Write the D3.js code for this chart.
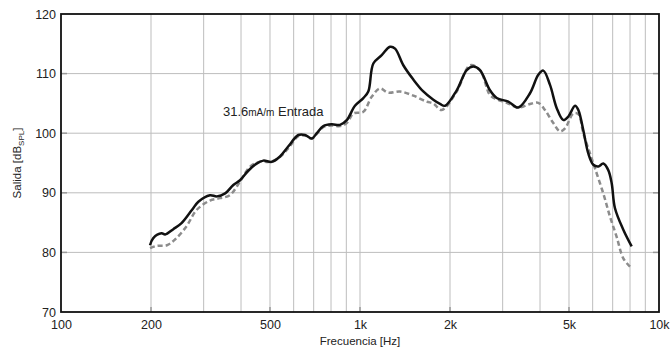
<!DOCTYPE html>
<html>
<head>
<meta charset="utf-8">
<script src="https://cdn.jsdelivr.net/npm/d3@7"></script>
<style>
  body { margin: 0; background: #fff; }
  svg text { font-family: "Liberation Sans", Arial, sans-serif; fill: #222; }
</style>
</head>
<body>
<svg id="chart"></svg>
<script>
// data
const freqSolid = [198.5, 203.5, 217, 223, 237.5, 253, 274, 288, 315, 332, 354, 377, 397, 423, 451, 475, 507, 540, 576, 622, 655, 690, 717, 754, 804, 857, 903, 962, 1026, 1066, 1108, 1182, 1260, 1310, 1396, 1508, 1628, 1759, 1852, 1925, 2106, 2275, 2393, 2519, 2721, 2866, 3133, 3383, 3703, 3948, 4102, 4320, 4550, 4786, 4975, 5238, 5373, 5583, 5801, 6030, 6266, 6511, 6766, 6946, 7125, 7597, 8103];
const splSolid = [81.2, 82.4, 83.2, 83.0, 83.9, 84.9, 87.1, 88.5, 89.6, 89.4, 89.9, 91.3, 92.1, 93.7, 94.9, 95.4, 95.2, 96.1, 97.8, 99.7, 99.7, 99.1, 100.0, 101.2, 101.5, 101.4, 102.2, 104.6, 105.9, 107.0, 111.7, 113.1, 114.5, 114.2, 111.4, 109.0, 107.0, 105.6, 104.9, 104.6, 107.2, 110.6, 111.2, 110.6, 107.2, 105.9, 105.3, 104.3, 106.7, 109.8, 110.5, 108.1, 104.2, 102.2, 102.8, 104.6, 103.9, 100.5, 96.6, 94.7, 94.4, 94.9, 93.8, 91.6, 87.4, 83.8, 81.0];

const freqDash = [198.5, 209, 226, 241, 263, 284, 315, 340, 367, 397, 429, 463, 500, 540, 576, 622, 655, 690, 717, 754, 804, 857, 903, 950, 1026, 1094, 1166, 1243, 1361, 1508, 1672, 1759, 1876, 2106, 2333, 2519, 2721, 2866, 3095, 3383, 3703, 3948, 4155, 4432, 4666, 4849, 5170, 5373, 5583, 5877, 6109, 6511, 6857, 7218, 7597, 8000];
const splDash = [80.7, 81.1, 81.2, 82.2, 84.4, 87.1, 88.7, 89.1, 89.6, 91.9, 94.4, 95.2, 95.2, 96.0, 97.5, 99.5, 99.6, 99.1, 99.9, 101.0, 101.3, 101.2, 101.7, 103.3, 103.6, 106.1, 107.5, 106.8, 107.0, 106.3, 105.3, 105.0, 103.9, 107.0, 111.4, 110.6, 106.4, 105.7, 105.1, 104.3, 104.9, 105.1, 103.9, 101.7, 100.3, 100.8, 103.3, 103.2, 100.0, 96.6, 94.1, 89.9, 86.0, 82.6, 79.0, 77.6];

const xTickValues = [100, 200, 500, 1000, 2000, 5000, 10000];
const xTickLabels = ["100", "200", "500", "1k", "2k", "5k", "10k"];
const yTickValues = [70, 80, 90, 100, 110, 120];

//margins
const W = 671, H = 349;
const margin = { top: 14, right: 12, bottom: 37, left: 61 };
const width = W - margin.left - margin.right;
const height = H - margin.top - margin.bottom;

const svg = d3.select("#chart").attr("width", W).attr("height", H);
const g = svg.append("g").attr("transform", `translate(${margin.left},${margin.top})`);

const x = d3.scaleLog().domain([100, 10000]).range([0, width]);
const y = d3.scaleLinear().domain([70, 120]).range([height, 0]);

// minor vertical grid: 200..900, 1k..9k
const gridX = [];
[100, 1000].forEach(dec => { for (let k = 2; k <= 9; k++) gridX.push(dec * k); });
gridX.push(1000);

g.append("g").selectAll("line").data(gridX).enter().append("line")
    .attr("x1", d => x(d)).attr("x2", d => x(d))
    .attr("y1", 0).attr("y2", height)
    .attr("stroke", "#bdbdbd").attr("stroke-width", 1);

g.append("g").selectAll("line").data(yTickValues.slice(1, -1)).enter().append("line")
    .attr("x1", 0).attr("x2", width)
    .attr("y1", d => y(d)).attr("y2", d => y(d))
    .attr("stroke", "#bdbdbd").attr("stroke-width", 1);

// inward ticks
g.append("g").selectAll("line").data(xTickValues.slice(1, -1)).enter().append("line")
    .attr("x1", d => x(d)).attr("x2", d => x(d))
    .attr("y1", height).attr("y2", height - 5)
    .attr("stroke", "#999").attr("stroke-width", 1.5);

[0, width].forEach(edge => {
    g.append("g").selectAll("line").data(yTickValues.slice(1, -1)).enter().append("line")
        .attr("x1", edge).attr("x2", edge === 0 ? 6 : width - 6)
        .attr("y1", d => y(d)).attr("y2", d => y(d))
        .attr("stroke", "#999").attr("stroke-width", 1.5);
});

// axes (labels only)
const xAxis = d3.axisBottom(x).tickValues(xTickValues)
    .tickFormat((d, i) => xTickLabels[i]).tickSize(0).tickPadding(8);
const gx = g.append("g").attr("transform", `translate(0,${height})`).call(xAxis);
gx.select(".domain").remove();
gx.selectAll("text").attr("font-size", 12.5).attr("fill", "#222")
    .attr("font-family", "'Liberation Sans', Arial, sans-serif");

const yAxis = d3.axisLeft(y).tickValues(yTickValues).tickSize(0).tickPadding(5);
const gy = g.append("g").call(yAxis);
gy.select(".domain").remove();
gy.selectAll("text").attr("font-size", 12.5).attr("fill", "#222")
    .attr("font-family", "'Liberation Sans', Arial, sans-serif");

// lines
const line = d3.line()
    .x(d => x(d[0]))
    .y(d => y(d[1]))
    .curve(d3.curveCatmullRom.alpha(0.5));

g.append("path")
    .datum(freqDash.map((f, i) => [f, splDash[i]]))
    .attr("d", line)
    .attr("fill", "none")
    .attr("stroke", "#8c8c8c")
    .attr("stroke-width", 2.5)
    .attr("stroke-dasharray", "5,3");

g.append("path")
    .datum(freqSolid.map((f, i) => [f, splSolid[i]]))
    .attr("d", line)
    .attr("fill", "none")
    .attr("stroke", "#111")
    .attr("stroke-width", 2.5)
    .attr("stroke-linejoin", "round");

// frame
g.append("rect")
    .attr("width", width).attr("height", height)
    .attr("fill", "none").attr("stroke", "#111").attr("stroke-width", 1.8);

// annotation
const ann = g.append("text")
    .attr("x", x(348)).attr("y", y(102.9))
    .attr("font-size", 13);
ann.append("tspan").text("31.6");
ann.append("tspan").attr("font-size", 10).text("mA/m");
ann.append("tspan").text(" Entrada");

// axis titles
svg.append("text")
    .attr("x", margin.left + width / 2).attr("y", H - 4)
    .attr("text-anchor", "middle").attr("font-size", 11.5)
    .text("Frecuencia [Hz]");

const yl = svg.append("text")
    .attr("transform", `translate(21,${margin.top + height / 2}) rotate(-90)`)
    .attr("text-anchor", "middle").attr("font-size", 11.5);
yl.append("tspan").text("Salida [dB");
yl.append("tspan").attr("font-size", 8).attr("dy", 3).text("SPL");
yl.append("tspan").attr("dy", -3).text("]");
</script>
</body>
</html>
